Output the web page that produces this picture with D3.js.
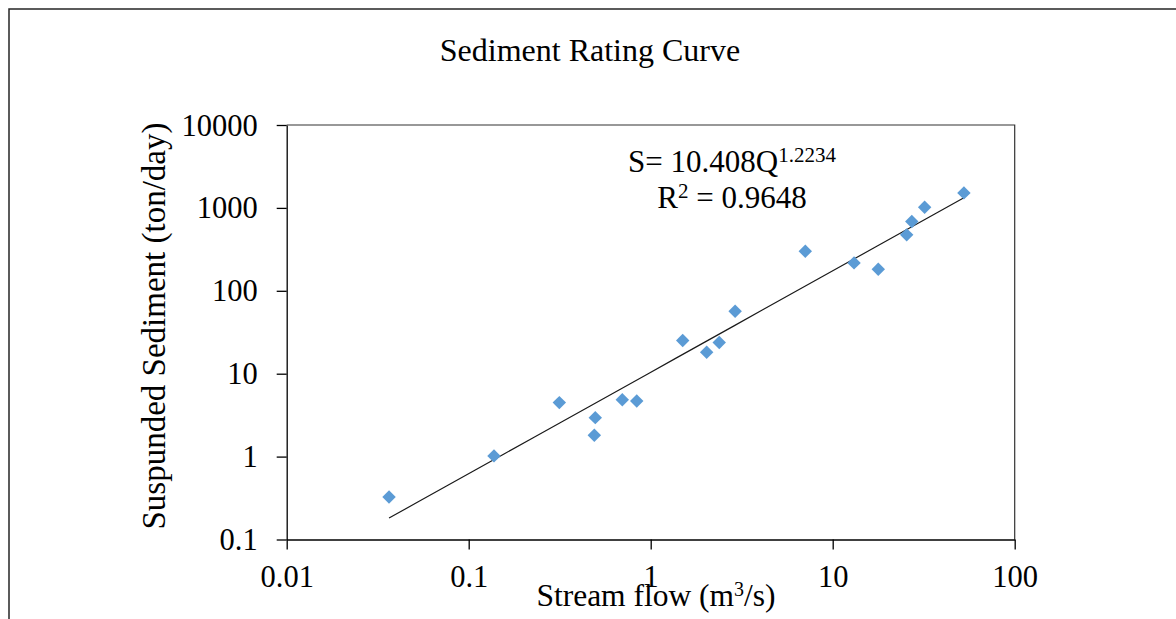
<!DOCTYPE html>
<html>
<head>
<meta charset="utf-8">
<script src="https://cdn.jsdelivr.net/npm/d3@7"></script>
<style>
  html, body { margin: 0; padding: 0; background: #fff; }
  svg { display: block; }
  text { font-family: "Liberation Serif", "Times New Roman", serif; fill: #000; }
</style>
</head>
<body>
<svg id="chart" width="1176" height="619"></svg>
<script>
// Observed stream flow (m3/s) and suspended sediment load (ton/day)
const flow = [0.0365, 0.1377, 0.3147, 0.496, 0.490, 0.698, 0.838, 1.499, 2.03,
              2.38, 2.91, 7.07, 13.1, 17.8, 25.5, 27.2, 32.0, 52.6];
const sediment = [0.326, 1.02, 4.48, 2.95, 1.81, 4.86, 4.68, 25.2, 18.1,
                  23.8, 56.8, 300, 217, 182, 473, 684, 1016, 1517];

// Power-law rating curve S = a * Q^b
const coefA = 10.408;
const coefB = 1.2234;
const rSquared = 0.9648;

const xTickValues = [0.01, 0.1, 1, 10, 100];
const xTickLabels = ["0.01", "0.1", "1", "10", "100"];
const yTickValues = [0.1, 1, 10, 100, 1000, 10000];
const yTickLabels = ["0.1", "1", "10", "100", "1000", "10000"];

const svg = d3.select("#chart");

// Outer chart frame
svg.append("rect")
  .attr("x", 9).attr("y", 9)
  .attr("width", 1300).attr("height", 800)
  .attr("fill", "none").attr("stroke", "#262626").attr("stroke-width", 1.5);

const plotLeft = 286.7, plotRight = 1014.7, plotTop = 125, plotBottom = 539.5;

const x = d3.scaleLog().domain([0.01, 100]).range([plotLeft, plotRight]);
const y = d3.scaleLog().domain([0.1, 10000]).range([plotBottom, plotTop]);

// Title
svg.append("text")
  .attr("x", 590).attr("y", 61)
  .attr("text-anchor", "middle")
  .style("font-size", "32px")
  .text("Sediment Rating Curve");

// Plot area border (top and right)
svg.append("path")
  .attr("d", `M${plotLeft},${plotTop}H${plotRight}V${plotBottom}`)
  .attr("fill", "none").attr("stroke", "#333").attr("stroke-width", 1.2);

// Axes
const xAxis = svg.append("g")
  .attr("transform", `translate(0,${plotBottom})`)
  .call(d3.axisBottom(x).tickValues(xTickValues).tickSize(10).tickSizeOuter(0)
        .tickFormat((d, i) => xTickLabels[i]));
xAxis.selectAll("text").attr("y", 47).attr("dy", 0).style("font-size", "30.5px");

const yAxis = svg.append("g")
  .attr("transform", `translate(${plotLeft},0)`)
  .call(d3.axisLeft(y).tickValues(yTickValues).tickSize(10).tickSizeOuter(0)
        .tickFormat((d, i) => yTickLabels[i]));
yAxis.selectAll("text").attr("x", -29).attr("dy", "0.33em").style("font-size", "30.5px");

[xAxis, yAxis].forEach(g => {
  g.select(".domain").attr("stroke", "#000").attr("stroke-width", 1.3);
  g.selectAll(".tick line").attr("stroke", "#000").attr("stroke-width", 1.3);
  g.selectAll("text").attr("fill", "#000")
    .style("font-family", '"Liberation Serif", "Times New Roman", serif');
});

// Axis titles
const xTitle = svg.append("text")
  .attr("x", 656).attr("y", 606)
  .attr("text-anchor", "middle")
  .style("font-size", "31.5px");
xTitle.append("tspan").text("Stream flow (m");
xTitle.append("tspan").attr("dy", -10).style("font-size", "20px").text("3");
xTitle.append("tspan").attr("dy", 10).text("/s)");

svg.append("text")
  .attr("transform", "translate(165,326) rotate(-90)")
  .attr("text-anchor", "middle")
  .style("font-size", "33px")
  .text("Suspunded Sediment (ton/day)");

// Fitted rating curve
const qRange = d3.extent(flow);
const curve = d3.range(0, 21).map(i => {
  const q = qRange[0] * Math.pow(qRange[1] / qRange[0], i / 20);
  return [q, coefA * Math.pow(q, coefB)];
});
svg.append("path")
  .datum(curve)
  .attr("d", d3.line().x(d => x(d[0])).y(d => y(d[1])))
  .attr("fill", "none").attr("stroke", "#1a1a1a").attr("stroke-width", 1.2);

// Observations
const diamond = d3.symbol().type(d3.symbolDiamond2).size(115);
svg.append("g").selectAll("path")
  .data(flow.map((q, i) => [q, sediment[i]]))
  .join("path")
  .attr("transform", d => `translate(${x(d[0])},${y(d[1])})`)
  .attr("d", diamond)
  .attr("fill", "#5B9BD5");

// Equation and goodness of fit
const eq = svg.append("text")
  .attr("x", 732).attr("y", 172)
  .attr("text-anchor", "middle")
  .style("font-size", "31px");
eq.append("tspan").text(`S= ${coefA}Q`);
eq.append("tspan").attr("dy", -10).style("font-size", "21px").text(coefB);

const r2 = svg.append("text")
  .attr("x", 732).attr("y", 208)
  .attr("text-anchor", "middle")
  .style("font-size", "31px");
r2.append("tspan").text("R");
r2.append("tspan").attr("dy", -10).style("font-size", "21px").text("2");
r2.append("tspan").attr("dy", 10).text(` = ${rSquared}`);
</script>
</body>
</html>
